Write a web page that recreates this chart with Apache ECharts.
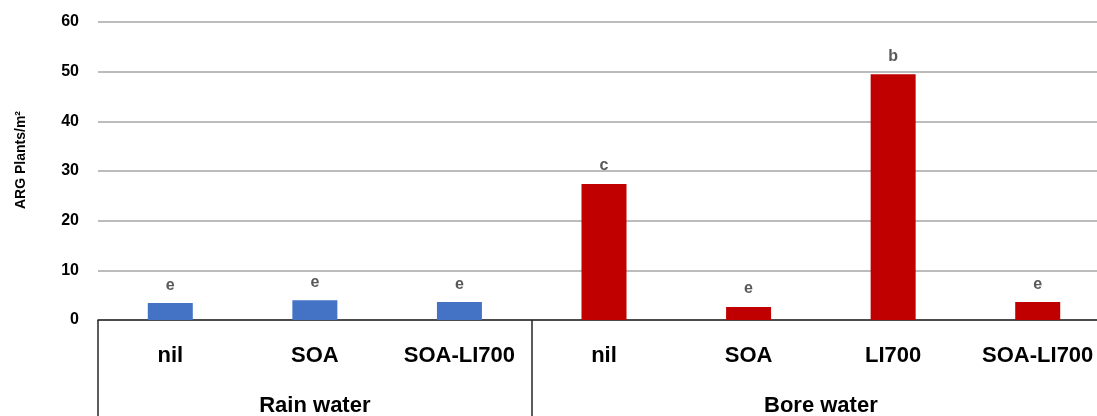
<!DOCTYPE html>
<html>
<head>
<meta charset="utf-8">
<script src="https://cdn.jsdelivr.net/npm/echarts@6/dist/echarts.min.js"></script>
<style>
  html, body { margin: 0; padding: 0; background: #fff; }
  #chart { width: 1097px; height: 416px; }
</style>
</head>
<body>
<div id="chart"></div>
<script>
// Treatments, grouped by irrigation water source
const categories = ['nil', 'SOA', 'SOA-LI700', 'nil', 'SOA', 'LI700', 'SOA-LI700'];
const groupNames = ['Rain water', 'Bore water'];
const groupSizes = [3, 4];
const values = [3.4, 4.0, 3.6, 27.4, 2.6, 49.5, 3.6];
const letters = ['e', 'e', 'e', 'c', 'e', 'b', 'e'];
const groupColors = ['#4472c4', '#c00000'];
const yTicks = { min: 0, max: 60, interval: 10 };

// group index for each category, and group centre positions on a 0..n scale
const groupOf = [];
const groupCentres = {};
const groupBoundaries = new Set();
let start = 0;
groupSizes.forEach((n, g) => {
  groupBoundaries.add(start);
  for (let i = 0; i < n; i++) groupOf.push(g);
  groupCentres[(start + n / 2).toFixed(2)] = groupNames[g];
  start += n;
});

const FONT = '"Liberation Sans", Arial, sans-serif';

const chart = echarts.init(document.getElementById('chart'), null, { renderer: 'canvas' });
chart.setOption({
  animation: false,
  grid: {
    left: 98, top: 22, width: 1012, height: 298,
    containLabel: false,
    outerBoundsMode: 'none'
  },
  xAxis: [
    {
      type: 'category',
      data: categories,
      boundaryGap: true,
      axisLine: { show: true, lineStyle: { color: '#262626', width: 1.5 } },
      axisTick: {
        show: true,
        length: 100,
        interval: (i) => groupBoundaries.has(i),
        lineStyle: { color: '#262626', width: 1.5 }
      },
      axisLabel: {
        interval: 0,
        margin: 25,
        fontFamily: FONT,
        fontWeight: 'bold',
        fontSize: 22,
        color: '#000'
      },
      splitLine: { show: false }
    },
    {
      type: 'value',
      position: 'bottom',
      min: 0,
      max: categories.length,
      interval: 0.5,
      axisLine: { show: false },
      axisTick: { show: false },
      splitLine: { show: false },
      axisLabel: {
        margin: 75,
        showMinLabel: true,
        showMaxLabel: true,
        fontFamily: FONT,
        fontWeight: 'bold',
        fontSize: 22,
        color: '#000',
        formatter: (v) => groupCentres[v.toFixed(2)] || ''
      }
    }
  ],
  yAxis: {
    type: 'value',
    min: yTicks.min,
    max: yTicks.max,
    interval: yTicks.interval,
    name: 'ARG Plants/m²',
    nameLocation: 'middle',
    nameRotate: 90,
    nameGap: 70,
    nameTextStyle: {
      fontFamily: FONT, fontWeight: 'bold', fontSize: 14, color: '#000',
      padding: [0, 0, 0, 22]
    },
    axisLine: { show: false },
    axisTick: { show: false },
    axisLabel: {
      margin: 19,
      fontFamily: FONT,
      fontWeight: 'bold',
      fontSize: 16,
      color: '#000'
    },
    splitLine: { show: true, lineStyle: { color: '#a6a6a6', width: 1.5 } }
  },
  series: [
    {
      type: 'bar',
      xAxisIndex: 0,
      barWidth: 45,
      data: values.map((v, i) => ({
        value: v,
        itemStyle: { color: groupColors[groupOf[i]] }
      })),
      label: {
        show: true,
        position: 'top',
        distance: 10,
        fontFamily: FONT,
        fontWeight: 'bold',
        fontSize: 16,
        color: '#595959',
        formatter: (p) => letters[p.dataIndex]
      }
    }
  ]
});
</script>
</body>
</html>
